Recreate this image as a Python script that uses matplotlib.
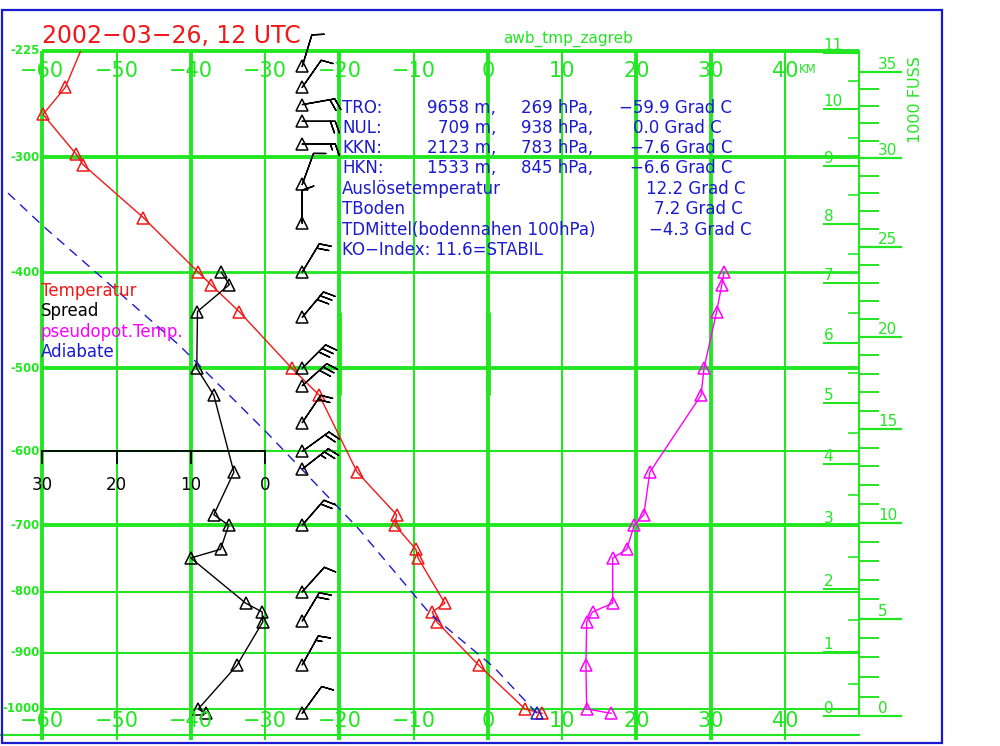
import numpy as np
import matplotlib.pyplot as plt
from matplotlib.patches import Rectangle

plt.rcParams['font.family'] = ['DejaVu Sans']

GREEN = '#22e622'
BLUE = '#1a1ad0'
RED = '#f01818'
MAGENTA = '#ff00ff'

# Sounding Zagreb, 2002-03-26 12 UTC
p_temp = [1008, 1000, 922, 848, 832, 818, 748, 735, 700, 685, 627, 531, 500,
          439, 412, 400, 350, 306, 298, 268, 249, 200]
t_temp = [7.3, 5.0, -1.2, -6.9, -7.5, -5.8, -9.4, -9.7, -12.5, -12.3, -17.6,
          -22.7, -26.4, -33.5, -37.3, -39.0, -46.4, -54.5, -55.4, -59.9, -56.9, -52.5]

p_hum = [1008, 1000, 922, 848, 832, 818, 748, 735, 700, 685, 627, 531, 500,
         439, 412, 400]
spread = [8.0, 9.0, 3.8, 0.3, 0.4, 2.6, 10.0, 6.0, 4.9, 6.9, 4.2, 6.9, 9.2,
          9.1, 4.8, 5.9]
theta_e = [16.6, 13.3, 13.2, 13.3, 14.1, 16.8, 16.8, 18.7, 19.7, 21.0, 21.8,
           28.7, 29.1, 30.8, 31.5, 31.8]

p_adiabat = [1008, 925, 835, 704, 574, 475, 358, 324]
t_adiabat = [6.6, 0.8, -7.8, -17.5, -30.0, -41.5, -59.8, -65.5]

p_wind = [1008, 921, 847, 800, 700, 623, 600, 564, 520, 500, 445, 400, 355,
          322, 290, 273, 261, 249, 235]
wind_dir = [36, 29, 31, 42, 41, 52, 54, 34, 48, 45, 40, 31, 0, 20, 90, 90, 80, 35, 17]
wind_kt = [10, 15, 20, 10, 20, 25, 20, 20, 30, 30, 30, 20, 10, 10, 15, 20, 20, 10, 10]

t_ticks = [-60, -50, -40, -30, -20, -10, 0, 10, 20, 30, 40]
t_bold = [-60, -40, -20, 0, 20, 30]
p_ticks = [225, 300, 400, 500, 600, 700, 800, 900, 1000]
p_bold = [225, 300, 500, 700]
spread_ticks = [30, 20, 10, 0]
km_ticks = list(range(0, 12))
kft_ticks = list(range(0, 36))

info_rows = [
    ['TRO:', '9658 m,', '269 hPa,', '\u221259.9 Grad C'],
    ['NUL:', '709 m,', '938 hPa,', '0.0 Grad C'],
    ['KKN:', '2123 m,', '783 hPa,', '\u22127.6 Grad C'],
    ['HKN:', '1533 m,', '845 hPa,', '\u22126.6 Grad C'],
    ['Auslösetemperatur', '', '', '12.2 Grad C'],
    ['TBoden', '', '', '7.2 Grad C'],
    ['TDMittel(bodennahen 100hPa)', '', '', '\u22124.3 Grad C'],
    ['KO\u2212Index: 11.6=STABIL', '', '', ''],
]
legend_items = [('Temperatur', RED), ('Spread', 'black'),
                ('pseudopot.Temp.', MAGENTA), ('Adiabate', BLUE)]


def km_to_hpa(h):
    # standard atmosphere, used for the height scales on the right
    return 1013.25 * (1 - 0.0065 * h * 1000 / 288.15) ** 5.25588


def fwd(p):
    return np.power(np.clip(p, 1e-3, None), 0.286)


def inv(y):
    return np.power(np.clip(y, 1e-6, None), 1 / 0.286)


fig = plt.figure(figsize=(10, 7.46), dpi=100)
ax = fig.add_axes([0, 0, 1, 1])
ax.set_yscale('function', functions=(fwd, inv))
ax.set_xlim(-65.69, 68.95)
ax.set_ylim(1070, 194.2)
ax.axis('off')


def fxy(px, py):
    return px / 1000, 1 - py / 746


# grid
for p in p_ticks:
    lw = 2.8 if p in p_bold else (2.0 if p == 400 else 1.5)
    ax.plot([-60, 50], [p, p], color=GREEN, lw=lw, zorder=1, solid_capstyle='butt')
    ax.text(-60.3, p, f'-{p}', ha='right', va='center', fontsize=8.5,
            color=GREEN, fontweight='bold', zorder=5)
for t in t_ticks:
    lw = 2.8 if t in t_bold else 1.5
    ax.plot([t, t], [225, 1058], color=GREEN, lw=lw, zorder=1, solid_capstyle='butt')
    label = f'{t}'.replace('-', '\u2212')
    ax.text(t, 238, label, ha='center', va='center', fontsize=15, color=GREEN, zorder=5)
    ax.text(t, 1022, label, ha='center', va='center', fontsize=15, color=GREEN, zorder=5)
ax.plot([-65.69, 50], [1049, 1049], color=GREEN, lw=1.5, zorder=1)
for t in [-20, 0]:
    ax.plot([t, t], [439, 531], color=GREEN, lw=3.5, zorder=1, solid_capstyle='butt')
ax.text(41.9, 237, 'KM', ha='left', va='center', fontsize=8.5, color=GREEN)

# spread scale
ax.plot([-60, -30], [600, 600], color='black', lw=1.3, zorder=2)
for s in spread_ticks:
    ax.plot([-30 - s, -30 - s], [600, 615], color='black', lw=1.3, zorder=2)
    ax.text(-30 - s, 644, f'{s}', ha='center', va='center', fontsize=12, color='black')

# height scales (km left, 1000 ft right)
ax.plot([50, 50], [225, km_to_hpa(0)], color=GREEN, lw=1.5, zorder=1)
for h in km_ticks:
    p = km_to_hpa(h)
    ax.plot([45.2, 50], [p, p], color=GREEN, lw=1.5, zorder=1)
    ax.text(45.2, p, f'{h}', ha='left', va='bottom', fontsize=11, color=GREEN)
    if h < 11:
        ph = km_to_hpa(h + 0.5)
        ax.plot([48.6, 50], [ph, ph], color=GREEN, lw=1.2, zorder=1)
for k in kft_ticks:
    p = km_to_hpa(k * 0.3048)
    if k % 5 == 0:
        ax.plot([50, 55.6], [p, p], color=GREEN, lw=1.6, zorder=1)
        ax.text(52.5, p, f'{k}', ha='left', va='bottom', fontsize=11, color=GREEN)
    else:
        ax.plot([50, 52.5], [p, p], color=GREEN, lw=1.4, zorder=1)
fig.text(*fxy(916, 100), '1000 FUSS', rotation=90, ha='center', va='center',
         fontsize=11.5, color=GREEN)

clip = Rectangle((-65.69, 225), 115.69, 845, transform=ax.transData)

# curves
line, = ax.plot(t_temp, p_temp, color=RED, lw=1, marker='^', ms=9, mfc='none',
                mew=1.1, zorder=4)
line.set_clip_path(clip)
ax.plot([-30 - s for s in spread], p_hum, color='black', lw=1, marker='^', ms=9,
        mfc='none', mew=1.1, zorder=4)
ax.plot(theta_e, p_hum, color=MAGENTA, lw=1, marker='^', ms=9, mfc='none',
        mew=1.1, zorder=4)
ad, = ax.plot(t_adiabat, p_adiabat, color=BLUE, lw=1, ls=(0, (7, 5)), zorder=4)
ad.set_clip_path(clip)
ax.plot(t_adiabat[:1], p_adiabat[:1], color=BLUE, ls='none', marker='^', ms=9,
        mfc='none', mew=1.1, zorder=4)

# wind barbs
wd = np.radians(wind_dir)
u = -np.array(wind_kt) * np.sin(wd)
v = -np.array(wind_kt) * np.cos(wd)
xb = np.full(len(p_wind), -25.0)
ax.plot(xb, p_wind, ls='none', marker='^', ms=9, mfc='none', mec='black',
        mew=1.1, zorder=4)
ax.barbs(xb, p_wind, u, v, length=6.9, lw=1, color='black', zorder=5,
         sizes=dict(height=0.35, spacing=0.15))

# texts
fig.text(*fxy(42, 36), '2002\u221203\u221226, 12 UTC', ha='left', va='center',
         fontsize=17, color=RED)
fig.text(*fxy(568, 39), 'awb_tmp_zagreb', ha='center', va='center',
         fontsize=11, color=GREEN)

row_y = [108, 128, 148, 168, 189, 209, 230, 250]
col3_end = [732, 722, 732, 732, 745, 743, 752, 752]
for row, y, x3 in zip(info_rows, row_y, col3_end):
    fig.text(*fxy(342, y), row[0], ha='left', va='center', fontsize=12, color=BLUE)
    fig.text(*fxy(496, y), row[1], ha='right', va='center', fontsize=12, color=BLUE)
    fig.text(*fxy(593, y), row[2], ha='right', va='center', fontsize=12, color=BLUE)
    fig.text(*fxy(x3, y), row[3], ha='right', va='center', fontsize=12, color=BLUE)

for i, (name, col) in enumerate(legend_items):
    fig.text(*fxy(41, 291 + 20.5 * i), name, ha='left', va='center',
             fontsize=12, color=col)

fig.add_artist(Rectangle((0.0015, 1 - 743 / 746), 0.9405, 733 / 746,
                         transform=fig.transFigure, fill=False, ec=BLUE, lw=1.6))

fig.savefig('out.png', dpi=100)
